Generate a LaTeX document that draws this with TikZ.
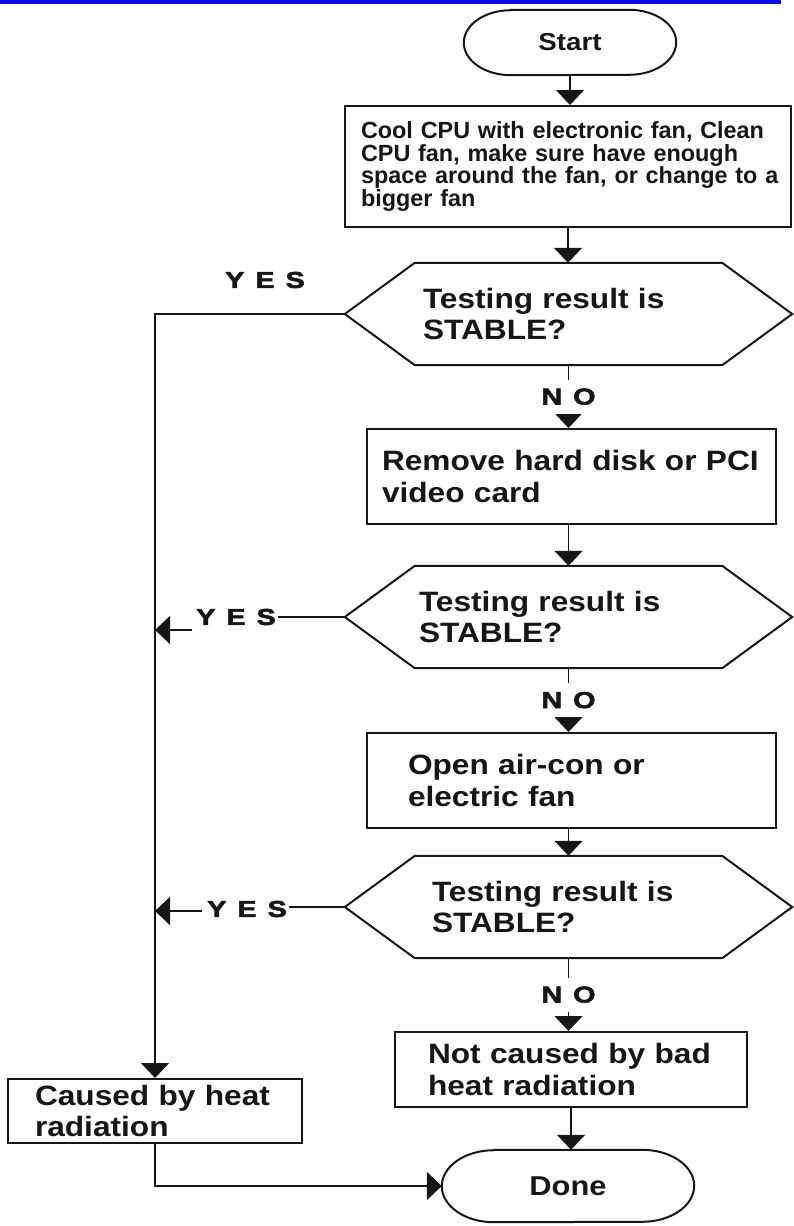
\documentclass[tikz,border=0pt]{standalone}
\usepackage{fontspec}
\setmainfont{Liberation Sans}
\newfontfamily\bigfont{Liberation Sans}[FakeStretch=1.13]
\newfontfamily\labfont{Liberation Sans}[FakeStretch=1.25, FakeBold=2.5]
\usetikzlibrary{arrows.meta}
\definecolor{ink}{RGB}{22,22,22}
\definecolor{linkblue}{RGB}{10,10,245}

% draw a terminal outline (flat top and bottom, elliptical ends) around a node
\newcommand\terminaloutline[3]{%
  \draw[shapeline] ([xshift=#2]#1.north west) -- ([xshift=-#2]#1.north east)
    arc[start angle=90, end angle=-90, x radius=#2, y radius=#3]
    -- ([xshift=#2]#1.south west)
    arc[start angle=270, end angle=90, x radius=#2, y radius=#3] -- cycle;}
% draw a decision hexagon around a node
\newcommand\hexoutline[1]{%
  \draw[shapeline] (#1.west) -- ([xshift=70pt]#1.north west) -- ([xshift=-70pt]#1.north east)
    -- (#1.east) -- ([xshift=-70pt]#1.south east) -- ([xshift=70pt]#1.south west) -- cycle;}

\tikzset{
  shapeline/.style={draw=ink, line width=2pt, line join=miter},
  conn/.style={draw=ink, line width=1.6pt},
  arr/.style={conn, -{Triangle[length=15pt,width=28pt]}},
  bigtext/.style={font=\bigfont\bfseries\fontsize{28}{31.5}\selectfont, text=ink},
  procbox/.style={bigtext, draw=ink, line width=2pt, align=left, inner ysep=0pt},
  decision/.style={bigtext, align=left, inner ysep=0pt, minimum height=102pt},
  terminal/.style={text=ink, inner sep=0pt},
  yesno/.style={font=\labfont\bfseries\fontsize{23}{23}\selectfont, text=ink, inner sep=2pt},
  nolabel/.style={yesno, fill=white, inner xsep=3pt, minimum height=34pt},
}

\begin{document}
\begin{tikzpicture}[x=1pt, y=-1pt]
  \useasboundingbox (0,0) rectangle (793,1226);
  \fill[white] (0,0) rectangle (793,1226);
  % link underline running along the top edge
  \fill[linkblue] (0,0) rectangle (781,4);

  % terminals
  \node[terminal, minimum width=212pt, minimum height=65pt,
        font=\bigfont\bfseries\fontsize{24.5}{24.5}\selectfont] (start) at (570,42.5) {Start};
  \node[terminal, minimum width=252pt, minimum height=72pt,
        font=\bigfont\bfseries\fontsize{27.3}{27.3}\selectfont] (done) at (568,1186) {Done};
  \terminaloutline{start}{47pt}{32.5pt}
  \terminaloutline{done}{52pt}{36pt}

  % process boxes
  \node[procbox, font=\bfseries\fontsize{23.4}{22.7}\selectfont,
        text width=414pt, inner xsep=16pt, minimum height=121pt] (cool) at (568,166.5)
    {\mbox{Cool CPU with electronic fan, Clean}\\\mbox{CPU fan, make sure have enough}\\
     \mbox{space around the fan, or change to a}\\\mbox{bigger fan}};
  \node[procbox, text width=379pt, inner xsep=15pt, minimum height=95pt] (remove) at (571.5,476.5)
    {\mbox{Remove hard disk or PCI}\\video card};
  \node[procbox, text width=327pt, inner xsep=41pt, minimum height=95pt] (aircon) at (571.5,780.5)
    {Open air-con or\\electric fan};
  \node[procbox, text width=286pt, inner xsep=33pt, minimum height=75pt] (notcaused) at (571,1069.5)
    {\mbox{Not caused by bad}\\heat radiation};
  \node[procbox, text width=240pt, inner xsep=27pt, minimum height=64pt] (caused) at (155,1111)
    {\mbox{Caused by heat}\\radiation};

  % decisions
  \node[decision, text width=291pt, inner xsep=78pt] (test1) at (568.5,314) {Testing result is\\STABLE?};
  \node[decision, text width=299pt, inner xsep=74pt] (test2) at (568.5,617) {Testing result is\\STABLE?};
  \node[decision, text width=273pt, inner xsep=87pt] (test3) at (568.5,907) {Testing result is\\STABLE?};
  \hexoutline{test1}
  \hexoutline{test2}
  \hexoutline{test3}

  % YES labels
  \node[yesno] (yes1) at (265,280) {Y\kern11pt E\kern11pt S};
  \node[yesno] (yes2) at (236,617) {Y\kern11pt E\kern11pt S};
  \node[yesno] (yes3) at (247,909) {Y\kern11pt E\kern11pt S};

  % main flow
  \draw[arr] (start.south) -- (start.south |- cool.north);
  \draw[arr] (cool.south) -- (cool.south |- test1.north);
  \draw[arr] (test1.south) -- (test1.south |- remove.north) node[nolabel, midway] {N\kern11pt O};
  \draw[arr] (test1.south |- remove.south) -- (test1.south |- test2.north);
  \draw[arr] (test2.south) -- (test2.south |- aircon.north) node[nolabel, midway] {N\kern11pt O};
  \draw[arr] (test2.south |- aircon.south) -- (test2.south |- test3.north);
  \draw[arr] (test3.south) -- (test3.south |- notcaused.north) node[nolabel, midway] {N\kern11pt O};
  \draw[arr] (notcaused.south) -- (notcaused.south |- done.north);

  % YES branches
  \draw[arr] (test1.west) -| (caused.north);
  \draw[conn] (test2.west) -- (yes2.east);
  \coordinate (tail2) at (192,630);
  \coordinate (join2) at (155,630);
  \draw[arr] (tail2) -- (join2);
  \draw[conn] (test3.west) -- (test3.west -| yes3.east);
  \coordinate (tail3) at (202,911);
  \coordinate (join3) at (155,911);
  \draw[arr] (tail3) -- (join3);

  % into Done
  \draw[arr] (caused.south) |- (done.west);
\end{tikzpicture}
\end{document}
